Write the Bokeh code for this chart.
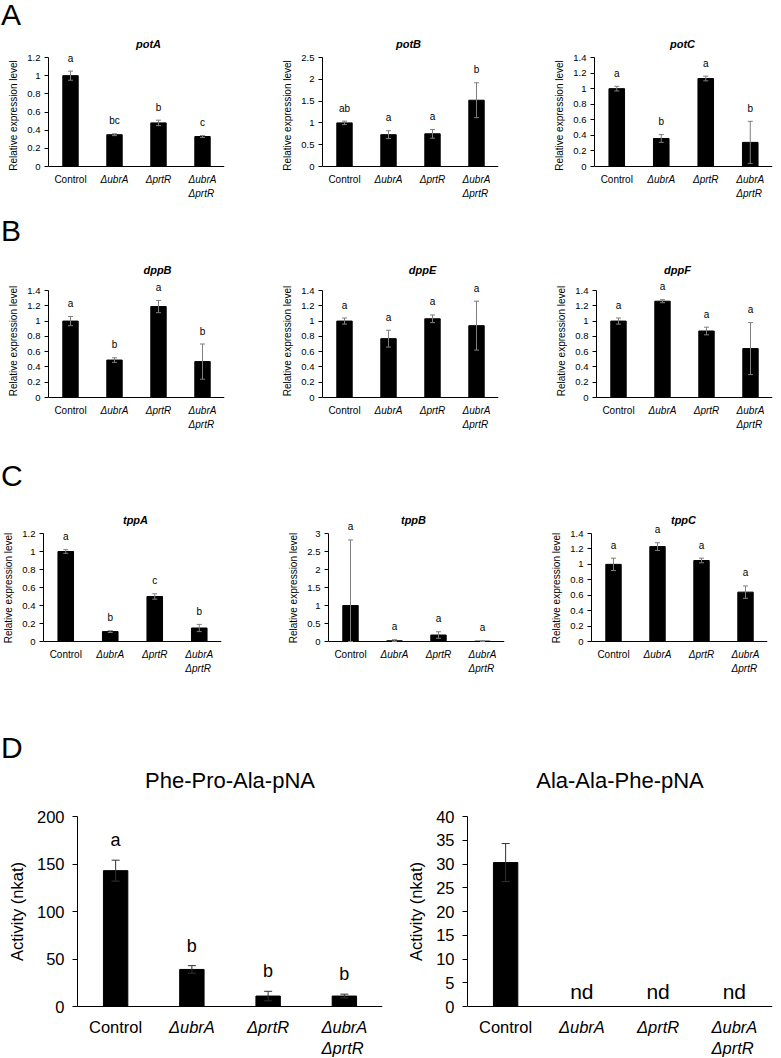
import numpy as np
from bokeh.core.properties import value
from bokeh.embed import file_html
from bokeh.layouts import column, row
from bokeh.models import (ColumnDataSource, Div, FixedTicker, Label, LabelSet,
                          NumeralTickFormatter, Range1d, Span, TeeHead, Whisker)
from bokeh.plotting import figure
from bokeh.resources import INLINE

FONT = "Liberation Sans"
NAN = float("nan")

# ---- strains (x categories) -------------------------------------------
strains = ["Control", "ΔubrA", "ΔprtR", "ΔubrA ΔprtR"]
strain_text = ["Control", "ΔubrA", "ΔprtR", "ΔubrA\nΔprtR"]
strain_style = ["normal", "italic", "italic", "italic"]

# ---- A: polyamine transporter genes (relative expression) --------------
potA_mean = [1.00, 0.35, 0.48, 0.33]
potA_err = [0.05, 0.01, 0.03, 0.01]
potA_sig = ["a", "bc", "b", "c"]
potA_ticks = [0, 0.2, 0.4, 0.6, 0.8, 1.0, 1.2]

potB_mean = [1.00, 0.73, 0.75, 1.52]
potB_err = [0.04, 0.09, 0.10, 0.40]
potB_sig = ["ab", "a", "a", "b"]
potB_ticks = [0, 0.5, 1.0, 1.5, 2.0, 2.5]

potC_mean = [1.00, 0.36, 1.13, 0.31]
potC_err = [0.03, 0.05, 0.03, 0.27]
potC_sig = ["a", "b", "a", "b"]
potC_ticks = [0, 0.2, 0.4, 0.6, 0.8, 1.0, 1.2, 1.4]

# ---- B: dipeptide transporter genes ------------------------------------
dppB_mean = [1.00, 0.49, 1.19, 0.47]
dppB_err = [0.06, 0.03, 0.08, 0.23]
dppB_sig = ["a", "b", "a", "b"]
dppB_ticks = [0, 0.2, 0.4, 0.6, 0.8, 1.0, 1.2, 1.4]

dppE_mean = [1.00, 0.77, 1.03, 0.94]
dppE_err = [0.04, 0.11, 0.05, 0.32]
dppE_sig = ["a", "a", "a", "a"]
dppE_ticks = [0, 0.2, 0.4, 0.6, 0.8, 1.0, 1.2, 1.4]

dppF_mean = [1.00, 1.26, 0.87, 0.64]
dppF_err = [0.04, 0.02, 0.05, 0.34]
dppF_sig = ["a", "a", "a", "a"]
dppF_ticks = [0, 0.2, 0.4, 0.6, 0.8, 1.0, 1.2, 1.4]

# ---- C: tripeptide transporter genes -----------------------------------
tppA_mean = [1.00, 0.11, 0.50, 0.15]
tppA_err = [0.02, 0.01, 0.03, 0.04]
tppA_sig = ["a", "b", "c", "b"]
tppA_ticks = [0, 0.2, 0.4, 0.6, 0.8, 1.0, 1.2]

tppB_mean = [1.00, 0.02, 0.18, 0.01]
tppB_err = [1.82, 0.03, 0.09, 0.01]
tppB_sig = ["a", "a", "a", "a"]
tppB_ticks = [0, 0.5, 1.0, 1.5, 2.0, 2.5, 3.0]

tppC_mean = [1.00, 1.23, 1.05, 0.64]
tppC_err = [0.08, 0.05, 0.03, 0.08]
tppC_sig = ["a", "a", "a", "a"]
tppC_ticks = [0, 0.2, 0.4, 0.6, 0.8, 1.0, 1.2, 1.4]

# ---- D: peptidase activities (nkat) ------------------------------------
phe_pro_mean = [143.0, 39.0, 11.0, 11.0]
phe_pro_err = [11.0, 4.0, 5.0, 2.0]
phe_pro_sig = ["a", "b", "b", "b"]
phe_pro_ticks = [0, 50, 100, 150, 200]

ala_ala_mean = [30.3, NAN, NAN, NAN]   # NaN = not detected
ala_ala_err = [4.0, NAN, NAN, NAN]
ala_ala_sig = ["", "", "", ""]
ala_ala_ticks = [0, 5, 10, 15, 20, 25, 30, 35, 40]

EXPR_LABEL = "Relative expression level"
ACT_LABEL = "Activity (nkat)"

# ---- text / mark styles for the two chart sizes --------------------------
SMALL = dict(tick_px="9.5px", label_px="10px", title_px="11px", title_style="bold italic",
             cat_px="10px", cat_dy=-7, cat_lh=1.3, sig_px="10px", sig_dy=13, fmt="0.[0]",
             bar_w=0.35, err_color="#7f7f7f", cap=5, tick_out=4, tick_standoff=4,
             label_standoff=5)
LARGE = dict(tick_px="16.5px", label_px="16.5px", title_px="22px", title_style="normal",
             cat_px="16.5px", cat_dy=-11, cat_lh=1.2, sig_px="18px", sig_dy=20, fmt="0",
             bar_w=0.32, err_color="#303030", cap=8, tick_out=5, tick_standoff=8,
             label_standoff=8)

# ---- row geometry (pixels): figure height, borders, space around the data -----
ROW_A = dict(height=180, bottom=10, pad_top=27, pad_bottom=34, title_dy=14)
ROW_B = dict(height=205, bottom=24, pad_top=40, pad_bottom=34, title_dy=21)
ROW_C = dict(height=200, bottom=25, pad_top=33, pad_bottom=34, title_dy=14)
ROW_D = dict(height=293, bottom=1, pad_top=51, pad_bottom=51, title_dy=36)


def bar_chart(name, mean, err, sig, ticks, ylabel, st, geo, width, left, right,
              title_shift=0, nd_text=None):
    frame_h = geo["height"] - geo["bottom"]
    top = ticks[-1]
    px_per_unit = (frame_h - geo["pad_top"] - geo["pad_bottom"]) / top
    y_range = Range1d(-geo["pad_bottom"] / px_per_unit, top + geo["pad_top"] / px_per_unit)

    p = figure(x_range=strains, y_range=y_range, width=width, height=geo["height"],
               min_border_left=left, min_border_right=right, min_border_top=0,
               min_border_bottom=geo["bottom"], output_backend="svg",
               toolbar_location=None)
    p.outline_line_color = None
    p.xgrid.visible = False
    p.ygrid.visible = False
    p.xaxis.visible = False

    m = np.array(mean, dtype=float)
    e = np.array(err, dtype=float)
    ok = ~np.isnan(m)
    src = ColumnDataSource(dict(
        strain=[s for s, k in zip(strains, ok) if k],
        mean=m[ok],
        upper=(m + e)[ok],
        lower=np.clip(m - e, 0, None)[ok],
        sig=[g for g, k in zip(sig, ok) if k],
    ))

    p.vbar(x="strain", top="mean", width=st["bar_w"], source=src,
           fill_color="black", line_color="black")

    # category baseline at y = 0
    p.add_layout(Span(location=0, dimension="width", line_color="black", line_width=1))

    p.add_layout(Whisker(base="strain", upper="upper", lower="lower", source=src,
                         level="annotation", line_color=st["err_color"], line_width=1,
                         upper_head=TeeHead(size=st["cap"], line_color=st["err_color"],
                                            line_width=1),
                         lower_head=TeeHead(size=st["cap"], line_color=st["err_color"],
                                            line_width=1)))

    p.add_layout(LabelSet(x="strain", y="upper", text="sig", source=src,
                          y_offset=st["sig_dy"], text_align="center",
                          text_baseline="middle", text_font=value(FONT),
                          text_font_size=st["sig_px"], text_color="black"))

    if nd_text is not None:
        n_nd = int((~ok).sum())
        nd_src = ColumnDataSource(dict(
            strain=[s for s, k in zip(strains, ok) if not k],
            y=[0.0] * n_nd,
            text=[nd_text] * n_nd,
        ))
        p.add_layout(LabelSet(x="strain", y="y", text="text", source=nd_src,
                              y_offset=15, text_align="center", text_baseline="middle",
                              text_font=value(FONT), text_font_size="21px",
                              text_color="black"))

    # strain names under the baseline; mutant names in italics
    for style in ("normal", "italic"):
        idx = [i for i, s in enumerate(strain_style) if s == style]
        cs = ColumnDataSource(dict(strain=[strains[i] for i in idx],
                                   y=[0.0] * len(idx),
                                   text=[strain_text[i] for i in idx]))
        p.add_layout(LabelSet(x="strain", y="y", text="text", source=cs,
                              y_offset=st["cat_dy"], text_align="center",
                              text_baseline="top", text_font=value(FONT),
                              text_font_size=st["cat_px"], text_font_style=style,
                              text_line_height=st["cat_lh"], text_color="black"))

    # chart title centred over the bars
    p.add_layout(Label(x=len(strains) / 2, y=top, x_offset=title_shift,
                       y_offset=geo["title_dy"], text=name, text_align="center",
                       text_baseline="middle", text_font=FONT,
                       text_font_size=st["title_px"], text_font_style=st["title_style"],
                       text_color="black"))

    ya = p.yaxis[0]
    ya.bounds = (0, top)
    ya.ticker = FixedTicker(ticks=ticks)
    ya.formatter = NumeralTickFormatter(format=st["fmt"])
    ya.major_tick_in = 0
    ya.major_tick_out = st["tick_out"]
    ya.minor_tick_line_color = None
    ya.axis_line_color = "black"
    ya.major_label_text_font = FONT
    ya.major_label_text_font_size = st["tick_px"]
    ya.major_label_text_color = "black"
    ya.major_label_standoff = st["tick_standoff"]
    ya.axis_label = ylabel
    ya.axis_label_text_font = FONT
    ya.axis_label_text_font_size = st["label_px"]
    ya.axis_label_text_font_style = "normal"
    ya.axis_label_text_color = "black"
    ya.axis_label_standoff = st["label_standoff"]
    return p


def panel_letter(text, height, margin):
    return Div(text=text, width=780, height=height, margin=margin,
               styles={"font-family": FONT, "font-size": "30px", "line-height": "30px",
                       "color": "black"})


row_a = row(
    bar_chart("potA", potA_mean, potA_err, potA_sig, potA_ticks, EXPR_LABEL, SMALL, ROW_A,
              260, 48, 36, title_shift=12),
    bar_chart("potB", potB_mean, potB_err, potB_sig, potB_ticks, EXPR_LABEL, SMALL, ROW_A,
              260, 62, 22, title_shift=-2),
    bar_chart("potC", potC_mean, potC_err, potC_sig, potC_ticks, EXPR_LABEL, SMALL, ROW_A,
              261, 74, 9, title_shift=-1),
)
row_b = row(
    bar_chart("dppB", dppB_mean, dppB_err, dppB_sig, dppB_ticks, EXPR_LABEL, SMALL, ROW_B,
              260, 48, 36, title_shift=21),
    bar_chart("dppE", dppE_mean, dppE_err, dppE_sig, dppE_ticks, EXPR_LABEL, SMALL, ROW_B,
              260, 62, 22, title_shift=12),
    bar_chart("dppF", dppF_mean, dppF_err, dppF_sig, dppF_ticks, EXPR_LABEL, SMALL, ROW_B,
              261, 76, 9, title_shift=-7),
)
row_c = row(
    bar_chart("tppA", tppA_mean, tppA_err, tppA_sig, tppA_ticks, EXPR_LABEL, SMALL, ROW_C,
              260, 43, 39, title_shift=3),
    bar_chart("tppB", tppB_mean, tppB_err, tppB_sig, tppB_ticks, EXPR_LABEL, SMALL, ROW_C,
              260, 68, 16, title_shift=-3),
    bar_chart("tppC", tppC_mean, tppC_err, tppC_sig, tppC_ticks, EXPR_LABEL, SMALL, ROW_C,
              261, 71, 14, title_shift=4),
)
row_d = row(
    bar_chart("Phe-Pro-Ala-pNA", phe_pro_mean, phe_pro_err, phe_pro_sig, phe_pro_ticks,
              ACT_LABEL, LARGE, ROW_D, 390, 77, 8),
    bar_chart("Ala-Ala-Phe-pNA", ala_ala_mean, ala_ala_err, ala_ala_sig, ala_ala_ticks,
              ACT_LABEL, LARGE, ROW_D, 391, 77, 9, nd_text="nd"),
)

layout = column(
    panel_letter("A", 30, (0, 0, 0, 1)), row_a,
    panel_letter("B", 30, (6, 0, 4, 1)), row_b,
    panel_letter("C", 30, (6, 0, 9, 1)), row_c,
    panel_letter("D", 30, (33, 0, 2, 1)), row_d,
)
open("out.html", "w").write(file_html(layout, INLINE))
